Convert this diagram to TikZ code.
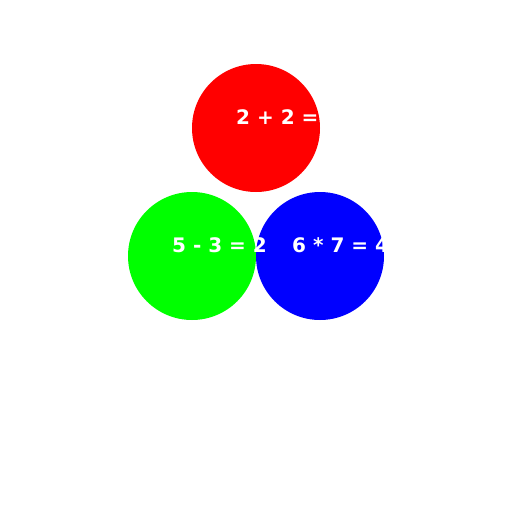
\documentclass[tikz,border=0pt]{standalone}
\usepackage{fontspec}
\setmainfont{DejaVu Sans}
\definecolor{redfill}{HTML}{FF0000}
\definecolor{greenfill}{HTML}{00FF00}
\definecolor{bluefill}{HTML}{0000FF}
\tikzset{
 ball/.style={circle,minimum size=128pt,inner sep=0pt},
 sum/.style={font=\fontsize{20}{24}\selectfont\bfseries,text=white,anchor=base west,inner sep=0pt}
}
\begin{document}
\begin{tikzpicture}[x=1pt,y=-1pt]
\useasboundingbox (0,0) rectangle (512,512);
\fill[white] (0,0) rectangle (512,512);
\node[ball,fill=redfill] (top) at (256,128) {};
\node[ball,fill=greenfill] (left) at (192,256) {};
\node[ball,fill=bluefill] (right) at (320,256) {};
\node[sum] (topsum) at (236,124.5) {2 + 2 = 4};
\node[sum] (leftsum) at (172,252.5) {5 - 3 = 2};
\node[sum] (rightsum) at (292,252.5) {6 * 7 = 42};
\end{tikzpicture}
\end{document}
